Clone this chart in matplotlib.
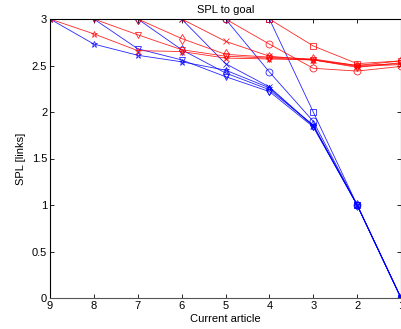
import numpy as np
import matplotlib
matplotlib.use("Agg")
import matplotlib.pyplot as plt

plt.rcParams['font.family'] = ['Liberation Sans', 'DejaVu Sans']

articles = [9, 8, 7, 6, 5, 4, 3, 2, 1]
markers = ['*', 'v', 'd', 'x', 'o', 's']

# SPL per step, starting at the article where each path begins
red_spl = [
    [3.00, 2.84, 2.66, 2.65, 2.58, 2.57, 2.56, 2.50, 2.52],
    [3.00, 2.83, 2.67, 2.60, 2.58, 2.56, 2.48, 2.53],
    [3.00, 2.79, 2.62, 2.59, 2.57, 2.50, 2.55],
    [3.00, 2.76, 2.60, 2.56, 2.49, 2.51],
    [3.00, 2.73, 2.47, 2.44, 2.49],
    [3.00, 2.71, 2.52, 2.55],
]
blue_spl = [
    [3.00, 2.73, 2.61, 2.54, 2.45, 2.26, 1.85, 1.00, 0.00],
    [3.00, 2.68, 2.56, 2.38, 2.22, 1.84, 1.00, 0.00],
    [3.00, 2.67, 2.42, 2.24, 1.86, 1.00, 0.00],
    [3.00, 2.52, 2.27, 1.85, 1.00, 0.00],
    [3.00, 2.43, 1.90, 1.00, 0.00],
    [3.00, 2.00, 1.00, 0.00],
]

fig = plt.figure(figsize=(4.01, 3.29), dpi=100)
ax = fig.add_axes([50 / 401, 31 / 329, 351 / 401, 279 / 329])

for m, vals in zip(markers, blue_spl):
    xs = articles[len(articles) - len(vals):]
    ax.plot(xs, vals, color='blue', lw=0.6, alpha=0.85, marker=m, ms=5,
            mfc='none', mec='blue', mew=0.6)
for m, vals in zip(markers, red_spl):
    xs = articles[len(articles) - len(vals):]
    ax.plot(xs, vals, color='red', lw=0.6, alpha=0.85, marker=m, ms=5,
            mfc='none', mec='red', mew=0.6)

ax.set_xlim(9, 1)
ax.set_ylim(0, 3)
ax.set_xticks(articles)
ax.set_yticks([0, 0.5, 1, 1.5, 2, 2.5, 3])
ax.set_yticklabels(['0', '0.5', '1', '1.5', '2', '2.5', '3'])
ax.tick_params(direction='in', length=3, width=0.6, labelsize=8,
               top=True, right=True, pad=2)
for s in ax.spines.values():
    s.set_linewidth(0.8)
ax.spines['bottom'].set_color('#555555')
ax.set_title('SPL to goal', fontsize=8, pad=4)
ax.set_xlabel('Current article', fontsize=8, labelpad=2)
ax.set_ylabel('SPL [links]', fontsize=8, labelpad=4)

fig.savefig('out.png', dpi=100)
